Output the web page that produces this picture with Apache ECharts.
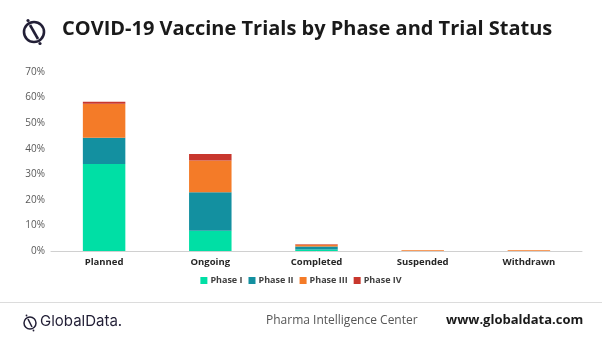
<!DOCTYPE html>
<html><head><meta charset="utf-8">
<script src="https://cdn.jsdelivr.net/npm/echarts@6/dist/echarts.min.js"></script>
<style>html,body{margin:0;padding:0;background:#fff}#c{width:602px;height:346px}</style>
</head><body><div id="c"></div>
<script>
var categories = ['Planned', 'Ongoing', 'Completed', 'Suspended', 'Withdrawn'];
var phaseI   = [34.0, 7.9, 0.6, 0, 0];
var phaseII  = [10.3, 15.1, 1.2, 0, 0];
var phaseIII = [13.3, 12.4, 0.6, 0.3, 0.3];
var phaseIV  = [0.8, 2.5, 0.2, 0, 0];
var seriesNames = ['Phase I', 'Phase II', 'Phase III', 'Phase IV'];
var colors = ['#00dfa5', '#1390a0', '#f47b28', '#c8372d'];
var yTicks = [0, 10, 20, 30, 40, 50, 60, 70];

var chart = echarts.init(document.getElementById('c'), null, {renderer: 'canvas'});
var data = [phaseI, phaseII, phaseIII, phaseIV];
var series = data.map(function (d, i) {
  return {
    name: seriesNames[i], type: 'bar', stack: 'a', data: d, barWidth: '40%',
    itemStyle: {color: colors[i]}
  };
});
var dark = '#221f36';
chart.setOption({
  animation: false,
  color: colors,
  grid: {left: 51, right: 20, top: 72, bottom: 95},
  legend: {
    data: seriesNames, top: 271, left: 'center', itemWidth: 7, itemHeight: 7, itemGap: 6,
    icon: 'rect',
    textStyle: {fontFamily: 'Open Sans', fontSize: 9, fontWeight: 'bold', color: '#404040', padding: [0, 0, 0, -2]}
  },
  xAxis: {
    type: 'category', data: categories,
    axisLine: {lineStyle: {color: '#d0d0d0', width: 1}},
    axisTick: {show: false},
    axisLabel: {fontFamily: 'Open Sans', fontSize: 9.5, fontWeight: 'bold', color: '#262626', margin: 6}
  },
  yAxis: {
    type: 'value', min: 0, max: 70, interval: 10,
    splitLine: {show: false},
    axisLine: {show: false}, axisTick: {show: false},
    axisLabel: {fontFamily: 'Open Sans', fontSize: 10, color: '#595959', margin: 6,
      formatter: function (v) { return v + '%'; }}
  },
  series: series,
  graphic: [
    {type: 'circle', shape: {cx: 34, cy: 32, r: 10}, style: {fill: 'none', stroke: dark, lineWidth: 2.6}},
    {type: 'line', shape: {x1: 30, y1: 25, x2: 38, y2: 39}, style: {stroke: dark, lineWidth: 2.6}},
    {type: 'circle', shape: {cx: 28, cy: 20.5, r: 1.6}, style: {fill: dark}},
    {type: 'circle', shape: {cx: 40, cy: 43.5, r: 1.6}, style: {fill: dark}},
    {type: 'text', left: 62, top: 19, style: {text: 'COVID-19 Vaccine Trials by Phase and Trial Status',
      fontFamily: 'Open Sans', fontWeight: 'bold', fontSize: 20, fill: '#1a1a1a'}},
    {type: 'rect', shape: {x: 0, y: 302, width: 602, height: 1}, style: {fill: '#dcdcdc'}},
    {type: 'circle', shape: {cx: 30, cy: 323, r: 6}, style: {fill: 'none', stroke: dark, lineWidth: 1.5}},
    {type: 'line', shape: {x1: 28, y1: 319, x2: 32, y2: 327}, style: {stroke: dark, lineWidth: 1.5}},
    {type: 'circle', shape: {cx: 26.5, cy: 315.5, r: 0.9}, style: {fill: dark}},
    {type: 'circle', shape: {cx: 33.5, cy: 330.5, r: 0.9}, style: {fill: dark}},
    {type: 'text', left: 40, top: 314, style: {text: 'GlobalData.', fontFamily: 'Inter', fontSize: 15, fill: dark}},
    {type: 'text', left: 266, top: 315, style: {text: 'Pharma Intelligence Center', fontFamily: 'Open Sans', fontSize: 12, fill: '#555555'}},
    {type: 'text', left: 446, top: 314, style: {text: 'www.globaldata.com', fontFamily: 'Open Sans', fontWeight: 'bold', fontSize: 13, fill: '#1a1a1a'}}
  ]
});
</script></body></html>
